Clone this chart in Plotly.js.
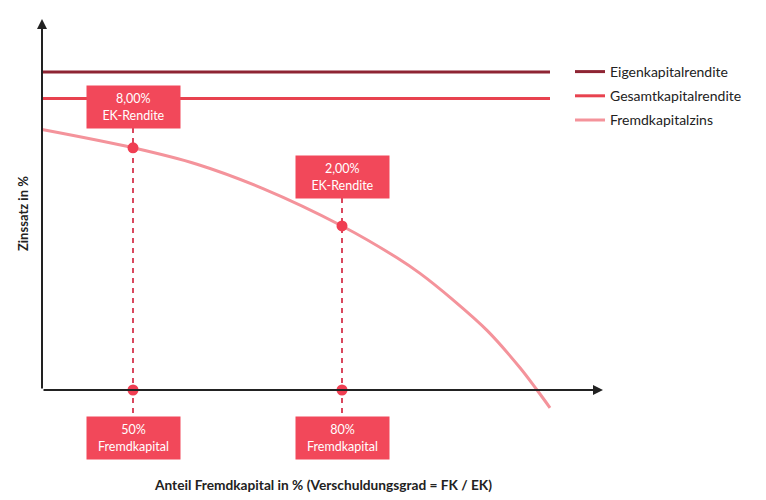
<!DOCTYPE html>
<html>
<head>
<meta charset="utf-8">
<script src="https://cdn.plot.ly/plotly-3.0.1.min.js"></script>
<style>
  html, body { margin: 0; padding: 0; background: #fff; }
  #plt { width: 766px; height: 500px; }
</style>
</head>
<body>
<div id="plt"></div>
<script>
// schematic units: x = distance from the y axis, y = interest level
var xEnd = 508;
var eigenkapital = 12;
var gesamtkapital = 11;

// Fremdkapitalzins curve
var curveX = [0, 91, 155, 221, 300, 355, 378, 411, 445, 478, 495, 508];
var curveY = [9.83, 9.14, 8.52, 7.60, 6.19, 4.99, 4.40, 3.40, 2.25, 0.84, 0, -0.67];

// marked points
var markX = [91, 300];
var markY = [9.14, 6.19];
var topLabelY = [10.68, 8.04];
var bottomLabelY = [-1.81, -1.81];
var topLabels = ['8,00%<br>EK-Rendite', '2,00%<br>EK-Rendite'];
var bottomLabels = ['50%<br>Fremdkapital', '80%<br>Fremdkapital'];

var seriesNames = ['Eigenkapitalrendite', 'Gesamtkapitalrendite', 'Fremdkapitalzins'];
var seriesColors = ['#8e2433', '#e8424f', '#f4939b'];

var boxColor = '#f2485a';
var dotColor = '#f03e52';
var dashColor = '#d9475d';
var font = 'Lato, "Noto Sans", sans-serif';
var boxHalf = 0.79; // half a label box, in y units

function plot(){
    let gd = document.getElementById('plt');

    let d = [
        {
            type: 'scatter', mode: 'lines', name: seriesNames[0], legendgroup: 'a',
            x: [0, xEnd], y: [eigenkapital, eigenkapital],
            line: {color: seriesColors[0], width: 3}
        },
        {
            type: 'scatter', mode: 'lines', name: seriesNames[1], legendgroup: 'b',
            x: [0, xEnd], y: [gesamtkapital, gesamtkapital],
            line: {color: seriesColors[1], width: 3}
        },
        {
            type: 'scatter', mode: 'lines', name: seriesNames[2], legendgroup: 'c',
            x: curveX, y: curveY,
            line: {color: seriesColors[2], width: 3, shape: 'spline', smoothing: 1}
        }
    ];

    // dashed drop lines from the upper label to the lower label
    markX.forEach((mx, i) => {
        d.push({
            type: 'scatter', mode: 'lines', showlegend: false, hoverinfo: 'skip',
            x: [mx, mx], y: [topLabelY[i] - boxHalf, bottomLabelY[i] + boxHalf],
            line: {color: dashColor, width: 2, dash: '5px,5px'}
        });
    });

    // dots on the curve and on the x axis
    d.push({
        type: 'scatter', mode: 'markers', showlegend: false,
        x: markX.concat(markX), y: markY.concat([0, 0]),
        marker: {color: dotColor, size: 11},
        cliponaxis: false
    });

    let ann = [];
    markX.forEach((mx, i) => {
        ann.push({
            x: mx, y: topLabelY[i], xref: 'x', yref: 'y',
            text: topLabels[i], showarrow: false,
            bgcolor: boxColor, width: 87, height: 36, borderpad: 3,
            font: {family: font, size: 12.5, color: '#fff'}
        });
        ann.push({
            x: mx, y: bottomLabelY[i], xref: 'x', yref: 'y',
            text: bottomLabels[i], showarrow: false,
            bgcolor: boxColor, width: 87, height: 36, borderpad: 3,
            font: {family: font, size: 12.5, color: '#fff'}
        });
    });

    // axes drawn as arrows
    ann.push({
        x: 561, y: 0, ax: 0, ay: 0, xref: 'x', yref: 'y', axref: 'x', ayref: 'y',
        text: '', showarrow: true, arrowhead: 2, arrowsize: 1, arrowwidth: 2, arrowcolor: '#222'
    });
    ann.push({
        x: 0, y: 14, ax: 0, ay: 0, xref: 'x', yref: 'y', axref: 'x', ayref: 'y',
        text: '', showarrow: true, arrowhead: 2, arrowsize: 1, arrowwidth: 2, arrowcolor: '#222'
    });

    // axis titles
    ann.push({
        x: 281, y: -3.58, xref: 'x', yref: 'y', showarrow: false,
        text: '<b>Anteil Fremdkapital in % (Verschuldungsgrad = FK / EK)</b>',
        font: {family: font, size: 13.7, color: '#222'}
    });
    ann.push({
        x: -19, y: 6.64, xref: 'x', yref: 'y', showarrow: false, textangle: -90,
        text: '<b>Zinssatz in %</b>',
        font: {family: font, size: 13, color: '#222'}
    });

    let l = {
        width: 766,
        height: 500,
        margin: {l: 0, r: 163, t: 19, b: 4, autoexpand: false},
        paper_bgcolor: '#fff',
        plot_bgcolor: '#fff',
        showlegend: true,
        legend: {
            x: 570 / 766, xref: 'container', xanchor: 'left',
            y: 1 - 56 / 500, yref: 'container', yanchor: 'top',
            font: {family: font, size: 14, color: '#222'},
            tracegroupgap: 3,
            bgcolor: 'rgba(0,0,0,0)'
        },
        xaxis: {range: [-42, 561], visible: false, fixedrange: true},
        yaxis: {range: [-4, 14], visible: false, fixedrange: true},
        annotations: ann
    };
    let c = {displayModeBar: false, staticPlot: true};

    Plotly.newPlot(gd, d, l, c);
}

plot();
</script>
</body>
</html>
